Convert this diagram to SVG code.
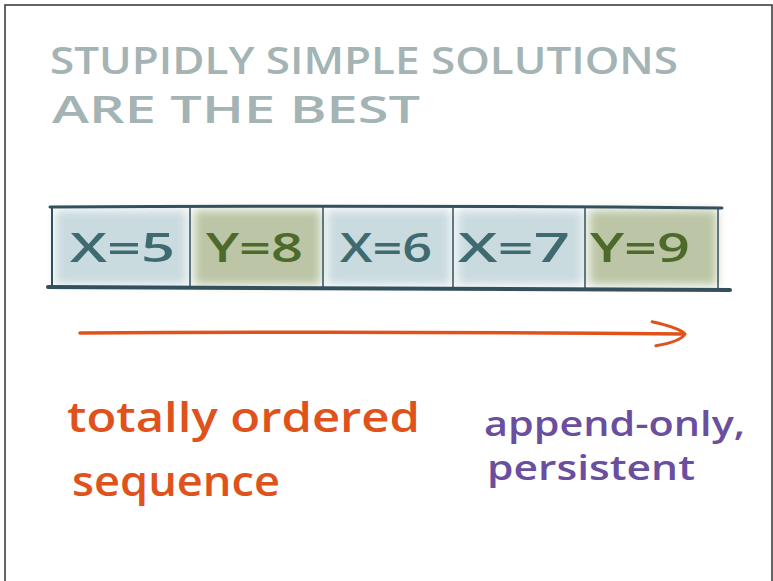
<svg xmlns="http://www.w3.org/2000/svg" width="773" height="581" viewBox="0 0 773 581">
<defs>
<filter id="soft" x="-20%" y="-20%" width="140%" height="140%"><feGaussianBlur stdDeviation="5"/></filter>
<marker id="openhead" markerWidth="40" markerHeight="30" refX="34" refY="14" orient="auto" markerUnits="userSpaceOnUse">
<path d="M2,2 Q30,8 35,14 Q30,22 6,26" fill="none" stroke="#e0521b" stroke-width="3" stroke-linecap="round"/>
</marker>
</defs>
<style>
.title{font-family:"Open Sans","Liberation Sans",sans-serif;font-weight:600;fill:#a4b3b3;font-size:37px}
.cx{font-family:"Open Sans","Liberation Sans",sans-serif;font-weight:600;fill:#3f6a70;font-size:40px}
.cy{font-family:"Open Sans","Liberation Sans",sans-serif;font-weight:600;fill:#4d6a2a;font-size:40px}
.or{font-family:"Open Sans","Liberation Sans",sans-serif;font-weight:600;fill:#e0521b;font-size:42px}
.pu{font-family:"Open Sans","Liberation Sans",sans-serif;font-weight:600;fill:#6a4f9e;font-size:34px}
.blue{fill:#cadbe0}
.green{fill:#bcc6a6}
.edge{stroke:#34505d;fill:none;stroke-linecap:round}
</style>
<rect x="0" y="0" width="773" height="581" fill="#ffffff"/>
<path d="M5,581 V5 H772 V581" fill="none" stroke="#333" stroke-width="1.5"/>
<g id="title">
<text class="title" x="50" y="74" textLength="628" lengthAdjust="spacingAndGlyphs">STUPIDLY SIMPLE SOLUTIONS</text>
<text class="title" x="52" y="123" textLength="368" lengthAdjust="spacingAndGlyphs">ARE THE BEST</text>
</g>
<g id="cell1">
<rect class="blue" x="55" y="210" width="132" height="75" filter="url(#soft)"/>
<text class="cx" x="70" y="262" textLength="105" lengthAdjust="spacingAndGlyphs">X=5</text>
</g>
<g id="cell2">
<rect class="green" x="194" y="210" width="127" height="75" filter="url(#soft)"/>
<text class="cy" x="206" y="262" textLength="97" lengthAdjust="spacingAndGlyphs">Y=8</text>
</g>
<g id="cell3">
<rect class="blue" x="327" y="210" width="124" height="75" filter="url(#soft)"/>
<text class="cx" x="340" y="262" textLength="92" lengthAdjust="spacingAndGlyphs">X=6</text>
</g>
<g id="cell4">
<rect class="blue" x="457" y="210" width="126" height="75" filter="url(#soft)"/>
<text class="cx" x="458" y="262" textLength="112" lengthAdjust="spacingAndGlyphs">X=7</text>
</g>
<g id="cell5">
<rect class="green" x="589" y="210" width="128" height="75" filter="url(#soft)"/>
<text class="cy" x="590" y="262" textLength="100" lengthAdjust="spacingAndGlyphs">Y=9</text>
</g>
<g id="connectors">
<path class="edge" d="M50,207 Q380,205 722,208" stroke-width="3"/>
<path class="edge" d="M48,287 Q390,289 730,290" stroke-width="4"/>
<path class="edge" d="M52,207 V287" stroke-width="2"/>
<path class="edge" d="M190,207 V287" stroke-width="1.5"/>
<path class="edge" d="M323,207 V288" stroke-width="1.5"/>
<path class="edge" d="M453,208 V288" stroke-width="1.5"/>
<path class="edge" d="M585,208 V289" stroke-width="1.5"/>
<path class="edge" d="M718,208 V289" stroke-width="1.5"/>
<path d="M80,333 Q380,331 684,334" fill="none" stroke="#e0521b" stroke-width="3.5" stroke-linecap="round" marker-end="url(#openhead)"/>
</g>
<g id="label-ordered">
<text class="or" x="67" y="432" textLength="353" lengthAdjust="spacingAndGlyphs">totally ordered</text>
<text class="or" x="72" y="496" textLength="208" lengthAdjust="spacingAndGlyphs">sequence</text>
</g>
<g id="label-append">
<text class="pu" x="484" y="436" textLength="261" lengthAdjust="spacingAndGlyphs">append-only,</text>
<text class="pu" x="487" y="480" textLength="208" lengthAdjust="spacingAndGlyphs">persistent</text>
</g>
</svg>
